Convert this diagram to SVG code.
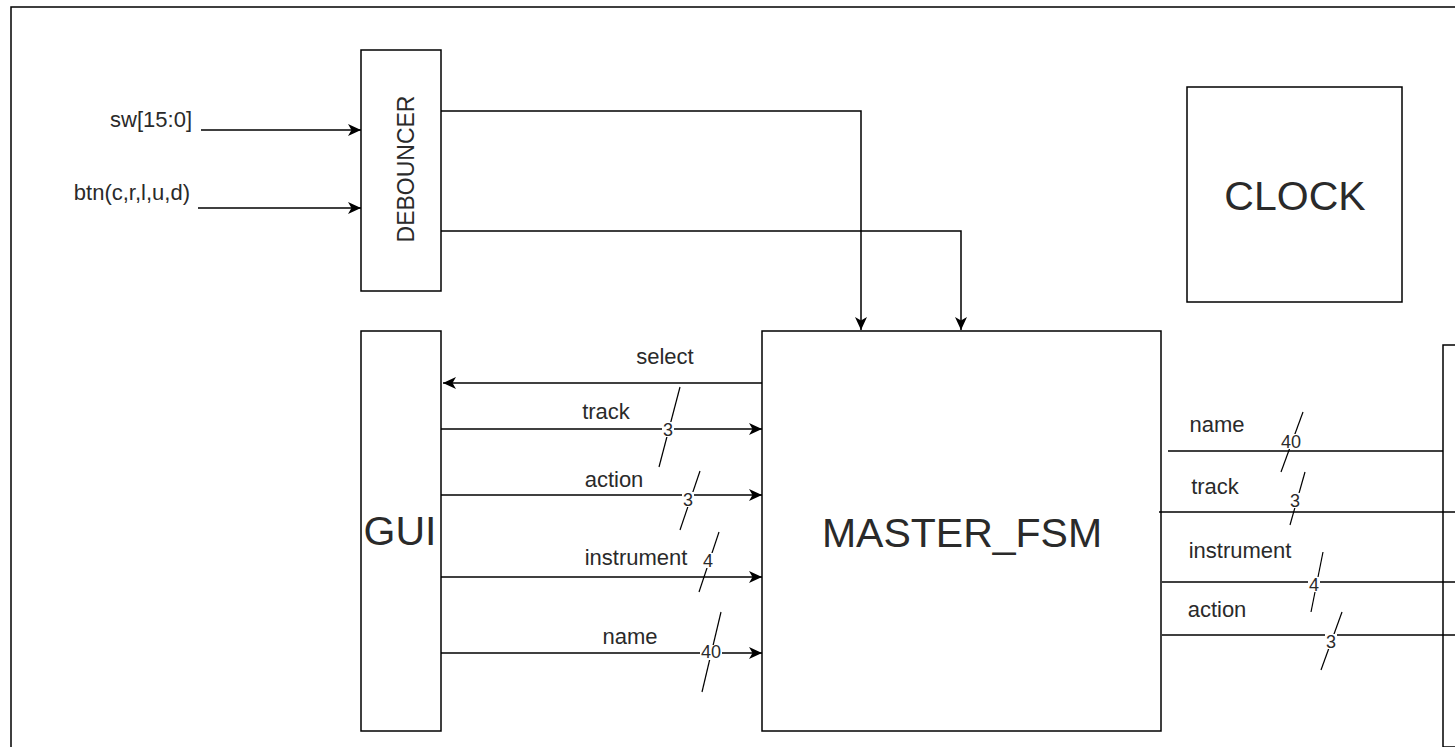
<svg xmlns="http://www.w3.org/2000/svg" width="1455" height="747" viewBox="0 0 1455 747">
<style>
.box{fill:#fff;stroke:#000;stroke-width:1.5}
.ln{fill:none;stroke:#000;stroke-width:1.5}
.sl{fill:none;stroke:#000;stroke-width:1.2}
.t{font-family:"Liberation Sans",Arial,sans-serif;fill:#2a2a2a}
.lbl{font-size:22px;text-anchor:middle}
.num{font-size:18px;text-anchor:middle}
.big{font-size:41px;text-anchor:middle}
.bg{fill:#fff}
</style>
<defs>
<marker id="arr" markerUnits="userSpaceOnUse" markerWidth="14" markerHeight="12" refX="13" refY="6" orient="auto">
<path d="M0,0 L13,6 L0,12 L3.5,6 z" fill="#000"/>
</marker>
</defs>
<rect x="0" y="0" width="1455" height="747" fill="#fff"/>
<path class="ln" d="M11,747 V7 H1455"/>

<g id="debouncer">
<rect class="box" x="361" y="50" width="80" height="241"/>
<text class="t" font-size="23" text-anchor="middle" transform="translate(414,169) rotate(-90)">DEBOUNCER</text>
</g>
<g id="clock">
<rect class="box" x="1187" y="87" width="215" height="215"/>
<text class="t big" x="1295" y="210">CLOCK</text>
</g>
<g id="gui">
<rect class="box" x="361" y="331" width="80" height="400"/>
<text class="t big" x="400" y="545">GUI</text>
</g>
<g id="master_fsm">
<rect class="box" x="762" y="331" width="399" height="400"/>
<text class="t big" x="962" y="547">MASTER_FSM</text>
</g>
<g id="right_block">
<path class="box" d="M1456,345 H1443 V747 H1456"/>
</g>

<g id="connectors">
<text class="t" font-size="22" x="192" y="127" text-anchor="end">sw[15:0]</text>
<line class="ln" x1="201" y1="130" x2="361" y2="130" marker-end="url(#arr)"/>
<text class="t" font-size="22" x="190" y="200" text-anchor="end">btn(c,r,l,u,d)</text>
<line class="ln" x1="198" y1="208" x2="361" y2="208" marker-end="url(#arr)"/>

<path class="ln" d="M441,111 H861 V330" marker-end="url(#arr)"/>
<path class="ln" d="M441,231 H961 V330" marker-end="url(#arr)"/>

<line class="ln" x1="762" y1="383" x2="443" y2="383" marker-end="url(#arr)"/>
<text class="t lbl" x="665" y="364">select</text>

<line class="ln" x1="441" y1="429" x2="762" y2="429" marker-end="url(#arr)"/>
<text class="t lbl" x="606" y="419">track</text>
<line class="sl" x1="680" y1="387" x2="659" y2="467"/>
<rect class="bg" x="662" y="422" width="12" height="15"/>
<text class="t num" x="668" y="436">3</text>

<line class="ln" x1="441" y1="495" x2="762" y2="495" marker-end="url(#arr)"/>
<text class="t lbl" x="614" y="487">action</text>
<line class="sl" x1="700" y1="471" x2="680" y2="530"/>
<rect class="bg" x="682" y="492" width="12" height="15"/>
<text class="t num" x="688" y="506">3</text>

<line class="ln" x1="441" y1="577" x2="762" y2="577" marker-end="url(#arr)"/>
<text class="t lbl" x="636" y="565">instrument</text>
<line class="sl" x1="719" y1="532" x2="699" y2="592"/>
<rect class="bg" x="702" y="553" width="12" height="15"/>
<text class="t num" x="708" y="567">4</text>

<line class="ln" x1="441" y1="653" x2="762" y2="653" marker-end="url(#arr)"/>
<text class="t lbl" x="630" y="644">name</text>
<line class="sl" x1="721" y1="612" x2="702" y2="692"/>
<rect class="bg" x="700" y="645" width="22" height="15"/>
<text class="t num" x="711" y="658">40</text>

<path class="ln" d="M1168,451 H1443"/>
<text class="t lbl" x="1217" y="432">name</text>
<line class="sl" x1="1303" y1="412" x2="1281" y2="472"/>
<rect class="bg" x="1280" y="434" width="22" height="15"/>
<text class="t num" x="1291" y="448">40</text>

<line class="ln" x1="1159" y1="512" x2="1455" y2="512"/>
<text class="t lbl" x="1215" y="494">track</text>
<line class="sl" x1="1305" y1="472" x2="1290" y2="525"/>
<rect class="bg" x="1289" y="493" width="12" height="15"/>
<text class="t num" x="1295" y="507">3</text>

<line class="ln" x1="1162" y1="582" x2="1455" y2="582"/>
<text class="t lbl" x="1240" y="558">instrument</text>
<line class="sl" x1="1323" y1="552" x2="1311" y2="612"/>
<rect class="bg" x="1308" y="577" width="12" height="15"/>
<text class="t num" x="1314" y="591">4</text>

<line class="ln" x1="1162" y1="635" x2="1455" y2="635"/>
<text class="t lbl" x="1217" y="617">action</text>
<line class="sl" x1="1342" y1="612" x2="1321" y2="670"/>
<rect class="bg" x="1325" y="634" width="12" height="15"/>
<text class="t num" x="1331" y="648">3</text>
</g>
</svg>
